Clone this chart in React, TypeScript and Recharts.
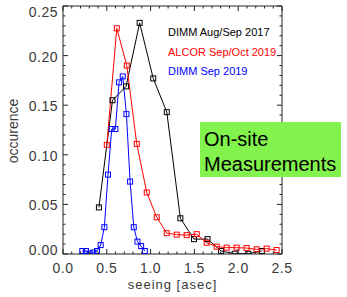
import React from 'react';
import { LineChart, Line, XAxis, YAxis, Legend, Label } from 'recharts';

// ---- data ----
const blackX = [0.41, 0.565, 0.72, 0.875, 1.03, 1.185, 1.34, 1.495, 1.65, 1.805, 1.96, 2.115, 2.27];
const blackY = [0.047, 0.155, 0.169, 0.233, 0.177, 0.143, 0.036, 0.015, 0.015, 0.003, 0.0003, 0.0003, 0.003];

const redX = [0.5, 0.614, 0.728, 0.842, 0.956, 1.07, 1.184, 1.298, 1.412, 1.526, 1.64, 1.754, 1.868, 1.982, 2.096, 2.21, 2.324, 2.438];
const redY = [0.11, 0.2275, 0.19, 0.111, 0.062, 0.037, 0.021, 0.0195, 0.019, 0.02, 0.0114, 0.0074, 0.0064, 0.0064, 0.006, 0.0047, 0.0054, 0.004];

const blueX = [0.22, 0.262, 0.304, 0.346, 0.388, 0.43, 0.472, 0.514, 0.556, 0.598, 0.64, 0.682, 0.724, 0.766, 0.808, 0.85, 0.892, 0.934];
const blueY = [0.003, 0.003, 0.0005, 0.0015, 0.003, 0.009, 0.027, 0.08, 0.126, 0.126, 0.173, 0.179, 0.141, 0.073, 0.027, 0.0125, 0.008, 0.003];

const seriesNames = ['DIMM Aug/Sep 2017', 'ALCOR Sep/Oct 2019', 'DIMM Sep 2019'];
const seriesColors = ['#000000', '#ff0000', '#0000ff'];

const xTicks = [0, 0.1, 0.2, 0.3, 0.4, 0.5, 0.6, 0.7, 0.8, 0.9, 1.0, 1.1, 1.2, 1.3, 1.4, 1.5, 1.6, 1.7, 1.8, 1.9, 2.0, 2.1, 2.2, 2.3, 2.4, 2.5];
const xMajor = [0, 0.5, 1.0, 1.5, 2.0, 2.5];
const yTicks = [0, 0.01, 0.02, 0.03, 0.04, 0.05, 0.06, 0.07, 0.08, 0.09, 0.1, 0.11, 0.12, 0.13, 0.14, 0.15, 0.16, 0.17, 0.18, 0.19, 0.2, 0.21, 0.22, 0.23, 0.24, 0.25];
const yMajor = [0, 0.05, 0.1, 0.15, 0.2, 0.25];

const xLabel = 'seeing [asec]';
const yLabel = 'occurence';
const boxLines = ['On-site', 'Measurements'];

const toPts = (xs: number[], ys: number[]) => xs.map((x, i) => ({ x, y: ys[i] }));
const blackData = toPts(blackX, blackY);
const redData = toPts(redX, redY);
const blueData = toPts(blueX, blueY);

const isMajor = (v: number, list: number[]) => list.some((m) => Math.abs(m - v) < 1e-6);

const AXIS = '#222';
const TXT = '#3a3a3a';
const FONT = '"Liberation Sans", Arial, sans-serif';
const MAJ = 5;
const MIN = 2.5;

const BottomTick = (props: any) => {
  const { x, y, payload } = props;
  const v = payload.value;
  const major = isMajor(v, xMajor);
  return (
    <g>
      <line x1={x} y1={y} x2={x} y2={y - (major ? MAJ : MIN)} stroke={AXIS} />
      {major && (
        <text x={x} y={y + 19} textAnchor="middle" fontSize={14} fill={TXT} fontFamily={FONT} letterSpacing={0.5}>
          {v.toFixed(1)}
        </text>
      )}
    </g>
  );
};

const TopTick = (props: any) => {
  const { x, y, payload } = props;
  const major = isMajor(payload.value, xMajor);
  return <line x1={x} y1={y} x2={x} y2={y + (major ? MAJ : MIN)} stroke={AXIS} />;
};

const LeftTick = (props: any) => {
  const { x, y, payload } = props;
  const v = payload.value;
  const major = isMajor(v, yMajor);
  let dy = 6;
  if (Math.abs(v - 0.25) < 1e-6) dy = 11;
  if (Math.abs(v) < 1e-6) dy = 1;
  return (
    <g>
      <line x1={x} y1={y} x2={x + (major ? MAJ : MIN)} y2={y} stroke={AXIS} />
      {major && (
        <text x={x - 5} y={y + dy} textAnchor="end" fontSize={14} fill={TXT} fontFamily={FONT} letterSpacing={0.5}>
          {v.toFixed(2)}
        </text>
      )}
    </g>
  );
};

const RightTick = (props: any) => {
  const { x, y, payload } = props;
  const major = isMajor(payload.value, yMajor);
  return <line x1={x} y1={y} x2={x - (major ? MAJ : MIN)} y2={y} stroke={AXIS} />;
};

const makeSquare = (color: string) => (props: any) => {
  const { cx, cy, index } = props;
  if (cx == null || cy == null) return <g key={index} />;
  return <rect key={index} x={cx - 2.5} y={cy - 2.5} width={5} height={5} fill="none" stroke={color} strokeWidth={1} />;
};

const renderLegend = () => (
  <div style={{ fontFamily: FONT, fontSize: 11, lineHeight: '19.6px', whiteSpace: 'nowrap' }}>
    {seriesNames.map((n, i) => (
      <div key={n} style={{ color: seriesColors[i] }}>{n}</div>
    ))}
  </div>
);

export default function App() {
  return (
    <div style={{ position: 'absolute', left: 0, top: 0, width: 347, height: 297, background: '#fff' }}>
      <LineChart width={347} height={297} margin={{ top: 0, right: 0, bottom: 0, left: 0 }}>
        <XAxis
          xAxisId={0}
          type="number"
          dataKey="x"
          domain={[0, 2.5]}
          ticks={xTicks}
          interval={0}
          height={43}
          tickSize={0}
          tickMargin={0}
          tickLine={false}
          tick={<BottomTick />}
          axisLine={{ stroke: AXIS }}
          allowDataOverflow
        >
          <Label
            content={(p: any) => {
              const vb = p.viewBox;
              return (
                <text x={vb.x + vb.width / 2} y={vb.y + 35} textAnchor="middle" fontSize={13} fill={TXT} fontFamily={FONT} letterSpacing={1}>
                  {xLabel}
                </text>
              );
            }}
          />
        </XAxis>
        <XAxis
          xAxisId="top"
          orientation="top"
          type="number"
          dataKey="x"
          domain={[0, 2.5]}
          ticks={xTicks}
          interval={0}
          height={6}
          tickSize={0}
          tickMargin={0}
          tickLine={false}
          tick={<TopTick />}
          axisLine={{ stroke: AXIS }}
          allowDataOverflow
        />
        <YAxis
          yAxisId={0}
          type="number"
          domain={[0, 0.25]}
          ticks={yTicks}
          interval={0}
          width={63}
          tickSize={0}
          tickMargin={0}
          tickLine={false}
          tick={<LeftTick />}
          axisLine={{ stroke: AXIS }}
          allowDataOverflow
        >
          <Label
            content={(p: any) => {
              const vb = p.viewBox;
              const cx = vb.x + vb.width - 45;
              const cy = vb.y + vb.height / 2 + 1;
              return (
                <text x={cx} y={cy} textAnchor="middle" fontSize={14} fill={TXT} fontFamily={FONT} transform={`rotate(-90, ${cx}, ${cy})`}>
                  {yLabel}
                </text>
              );
            }}
          />
        </YAxis>
        <YAxis
          yAxisId="right"
          orientation="right"
          type="number"
          domain={[0, 0.25]}
          ticks={yTicks}
          interval={0}
          width={65}
          tickSize={0}
          tickMargin={0}
          tickLine={false}
          tick={<RightTick />}
          axisLine={{ stroke: AXIS }}
          allowDataOverflow
        />
        <Legend
          layout="horizontal"
          verticalAlign="middle"
          align="center"
          content={renderLegend}
          wrapperStyle={{ left: 168, top: 23, width: 'auto' }}
        />
        <Line
          data={blackData}
          dataKey="y"
          name={seriesNames[0]}
          stroke={seriesColors[0]}
          strokeWidth={1}
          dot={makeSquare(seriesColors[0])}
          activeDot={false}
          isAnimationActive={false}
        />
        <Line
          data={redData}
          dataKey="y"
          name={seriesNames[1]}
          stroke={seriesColors[1]}
          strokeWidth={1}
          dot={makeSquare(seriesColors[1])}
          activeDot={false}
          isAnimationActive={false}
        />
        <Line
          data={blueData}
          dataKey="y"
          name={seriesNames[2]}
          stroke={seriesColors[2]}
          strokeWidth={1}
          dot={makeSquare(seriesColors[2])}
          activeDot={false}
          isAnimationActive={false}
        />
      </LineChart>
      <div
        style={{
          position: 'absolute',
          left: 200,
          top: 122,
          width: 141,
          height: 55,
          background: '#82f24c',
          fontFamily: FONT,
          fontSize: 20,
          lineHeight: '25px',
          color: '#000',
          boxSizing: 'border-box',
          paddingTop: 5,
          paddingLeft: 4,
          whiteSpace: 'nowrap',
        }}
      >
        {boxLines.map((l) => (
          <div key={l}>{l}</div>
        ))}
      </div>
    </div>
  );
}
